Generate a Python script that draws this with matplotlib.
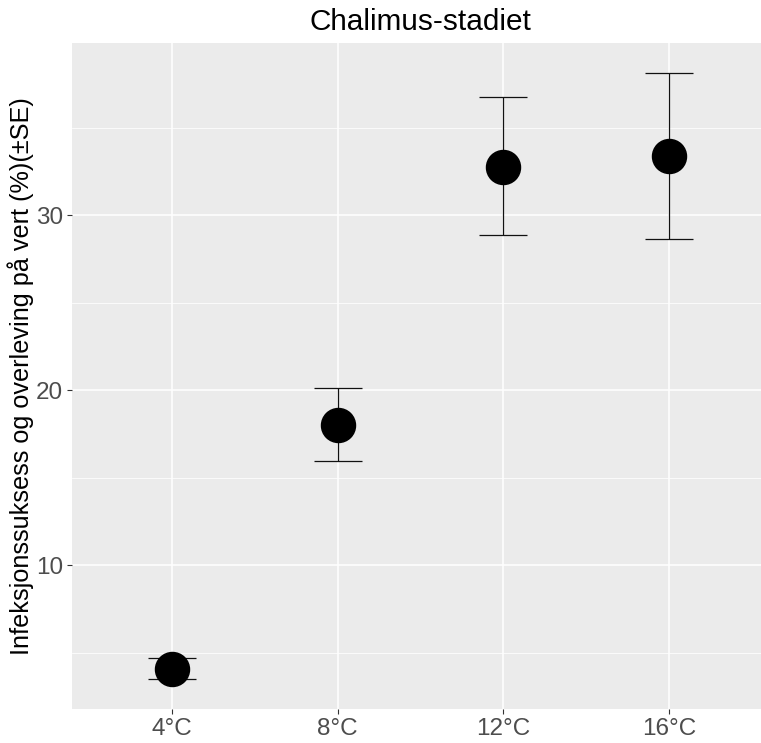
import matplotlib
matplotlib.use("Agg")
import matplotlib.pyplot as plt
from matplotlib.ticker import FixedLocator

# Infection success and survival on host, chalimus stage
temperatures = ["4°C", "8°C", "12°C", "16°C"]
mean_pct = [4.07, 17.99, 32.77, 33.37]
upper_pct = [4.69, 20.13, 36.77, 38.14]
lower_pct = [3.51, 15.93, 28.86, 28.65]

plt.rcParams["font.family"] = ["Liberation Sans", "DejaVu Sans"]

W, H, DPI = 761, 743, 100
fig = plt.figure(figsize=(W / DPI, H / DPI), dpi=DPI)
fig.patch.set_facecolor("white")

left, right, top, bottom = 72, 769, 42.7, 709
ax = fig.add_axes([left / W, (H - bottom) / H, (right - left) / W, (bottom - top) / H])
ax.set_facecolor("#EBEBEB")
for s in ax.spines.values():
    s.set_visible(False)

x = list(range(len(temperatures)))
yerr = [[m - lo for m, lo in zip(mean_pct, lower_pct)],
        [hi - m for m, hi in zip(mean_pct, upper_pct)]]

ax.errorbar(x, mean_pct, yerr=yerr, fmt="none", ecolor="#111111",
            elinewidth=0.9, capsize=17.6, capthick=0.9, zorder=3)
ax.plot(x, mean_pct, "o", color="black", markersize=24.5, zorder=4)

lo = min(lower_pct)
hi = max(upper_pct)
pad = (hi - lo) * 0.05
ax.set_ylim(lo - pad, hi + pad)
ax.set_xlim(-0.6, len(temperatures) - 1 + 0.6)

ax.set_xticks(x)
ax.set_xticklabels(temperatures)
ax.set_yticks([10, 20, 30])
ax.yaxis.set_minor_locator(FixedLocator([5, 15, 25, 35]))
ax.xaxis.set_minor_locator(FixedLocator([]))

ax.grid(which="major", color="white", linewidth=1.1, zorder=0)
ax.grid(which="minor", axis="y", color="white", linewidth=0.55, zorder=0)
ax.set_axisbelow(True)

ax.tick_params(which="major", length=3.6, width=0.8, color="#333333",
               labelcolor="#4D4D4D", labelsize=17.5, pad=3)
ax.tick_params(which="minor", length=0)

ax.set_ylabel("Infeksjonssuksess og overleving på vert (%)(±SE)",
              fontsize=18.2, color="black", labelpad=1)
fig.text((left + right) / 2 / W, 1 - 22 / H, "Chalimus-stadiet",
         ha="center", va="center", fontsize=21.4, color="black")

fig.savefig("out.png", dpi=DPI)
